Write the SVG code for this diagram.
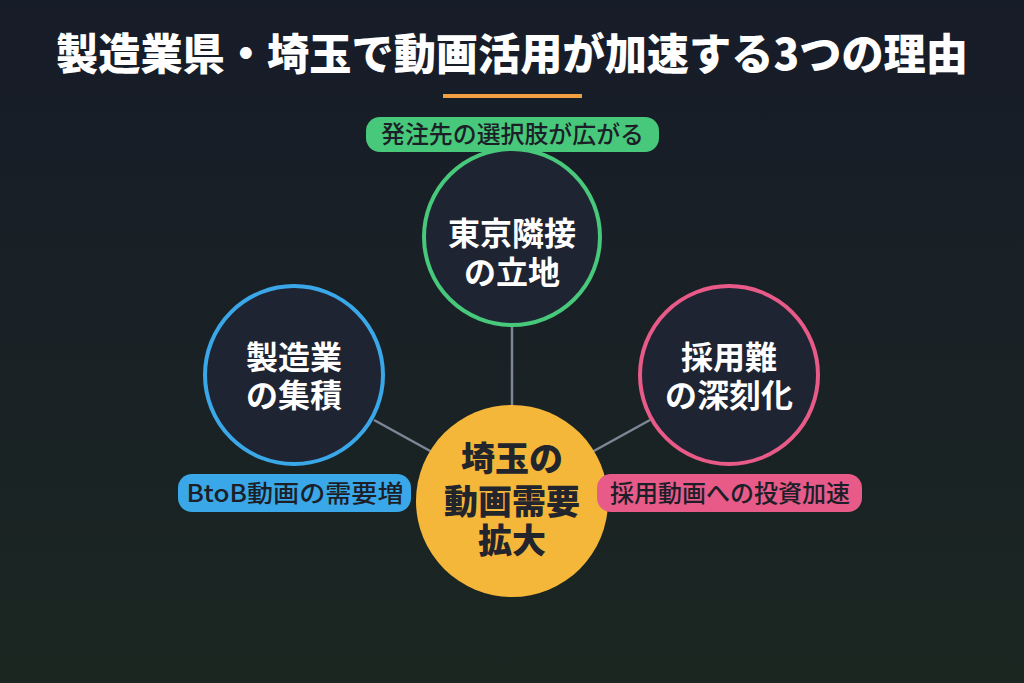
<svg xmlns="http://www.w3.org/2000/svg" width="1024" height="683" viewBox="0 0 1024 683">
<defs>
<linearGradient id="bg" x1="0" y1="0" x2="0" y2="1">
<stop offset="0" stop-color="#171c29"/>
<stop offset="1" stop-color="#1b2621"/>
</linearGradient>
<style>
text{font-family:"Noto Sans CJK JP","Noto Sans",sans-serif;text-anchor:middle;}
.title{font-size:43px;font-weight:900;fill:#ffffff;}
.sat{fill:#1f2433;stroke-width:4;}
.sattxt{font-size:32px;font-weight:700;fill:#ffffff;}
.ctr{font-size:34px;font-weight:900;fill:#23252d;}
.pilltxt{font-size:24px;font-weight:500;fill:#1c1f28;}
.conn{stroke:#7b8794;stroke-width:2.5;}
</style>
</defs>
<rect width="1024" height="683" fill="url(#bg)"/>
<text class="title" x="512" y="70" textLength="912" lengthAdjust="spacingAndGlyphs">製造業県・埼玉で動画活用が加速する3つの理由</text>
<rect x="443" y="94" width="139" height="4" fill="#f0a040"/>
<g id="connectors">
<line class="conn" x1="512" y1="322" x2="512" y2="410"/>
<line class="conn" x1="374" y1="420" x2="432" y2="452"/>
<line class="conn" x1="650" y1="420" x2="592" y2="452"/>
</g>
<g id="node-center">
<circle cx="512" cy="501" r="96" fill="#f5b73a"/>
<text class="ctr" x="512" y="471">埼玉の</text>
<text class="ctr" x="512" y="514">動画需要</text>
<text class="ctr" x="512" y="553">拡大</text>
</g>
<g id="node-top">
<rect x="366" y="117" width="293" height="35" rx="14" fill="#48c87a"/>
<text class="pilltxt" x="512.5" y="143" textLength="263" lengthAdjust="spacingAndGlyphs">発注先の選択肢が広がる</text>
<circle class="sat" cx="512" cy="237" r="88" stroke="#48c87a"/>
<text class="sattxt" x="512" y="245">東京隣接</text>
<text class="sattxt" x="512" y="284">の立地</text>
</g>
<g id="node-left">
<circle class="sat" cx="294" cy="375" r="89" stroke="#3aa8e8"/>
<text class="sattxt" x="294" y="369">製造業</text>
<text class="sattxt" x="294" y="407">の集積</text>
<rect x="178" y="474" width="233" height="38" rx="14" fill="#3aa8e8"/>
<text class="pilltxt" x="295" y="502" textLength="217" lengthAdjust="spacingAndGlyphs">BtoB動画の需要増</text>
</g>
<g id="node-right">
<circle class="sat" cx="729" cy="375" r="89" stroke="#e85a88"/>
<text class="sattxt" x="729" y="369">採用難</text>
<text class="sattxt" x="729" y="407">の深刻化</text>
<rect x="597" y="474" width="265" height="38" rx="14" fill="#e85a88"/>
<text class="pilltxt" x="730" y="502" textLength="240" lengthAdjust="spacingAndGlyphs">採用動画への投資加速</text>
</g>
</svg>
